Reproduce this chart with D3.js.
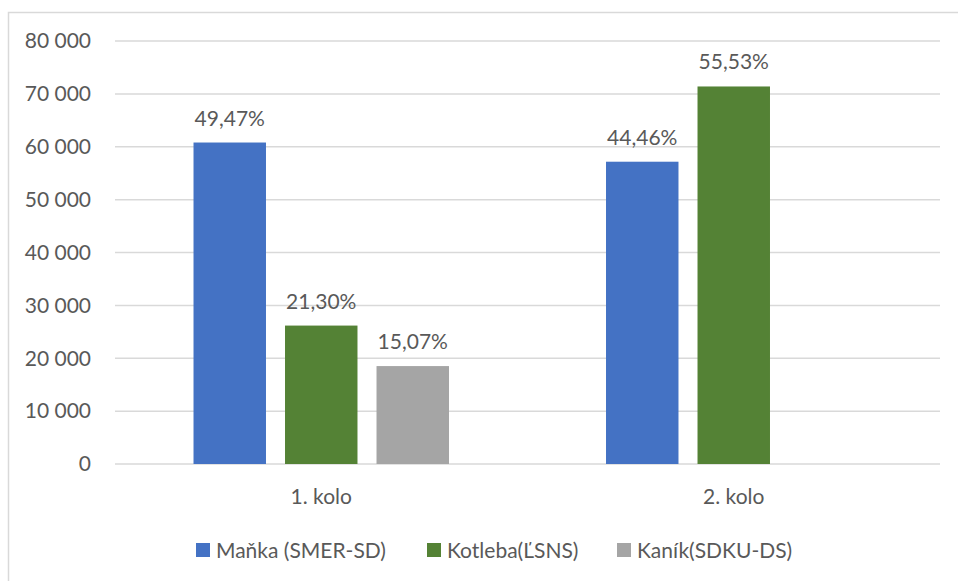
<!DOCTYPE html>
<html><head><meta charset="utf-8">
<script src="https://cdn.jsdelivr.net/npm/d3@7"></script>
<style>body{margin:0;background:#fff}svg{display:block}text{font-family:Lato,"Open Sans",sans-serif;fill:#595959}</style>
</head><body><svg id="c" width="958" height="581"></svg>
<script>
const categories = ["1. kolo", "2. kolo"];
const seriesNames = ["Maňka (SMER-SD)", "Kotleba(ĽSNS)", "Kaník(SDKU-DS)"];
const seriesColors = ["#4472C4", "#548235", "#A5A5A5"];
const manka = [60800, 57170];
const kotleba = [26180, 71400];
const kanik = [18520, null];
const mankaPct = ["49,47%", "44,46%"];
const kotlebaPct = ["21,30%", "55,53%"];
const kanikPct = ["15,07%", null];
const yTicks = [0, 10000, 20000, 30000, 40000, 50000, 60000, 70000, 80000];

const values = [manka, kotleba, kanik];
const pcts = [mankaPct, kotlebaPct, kanikPct];

const svg = d3.select("#c");
svg.append("rect").attr("x", 8.5).attr("y", 12.5).attr("width", 960).attr("height", 600)
  .attr("fill", "none").attr("stroke", "#d9d9d9").attr("stroke-width", 1.5);

const x0 = d3.scaleBand().domain(categories).range([115, 940]);
const x1 = d3.scaleBand().domain([0, 1, 2]).range([0, x0.bandwidth()]).paddingInner(0.208).paddingOuter(0.858);
const y = d3.scaleLinear().domain([0, 80000]).range([464, 41]);

const fmt = v => d3.format(",")(v).replace(/,/g, " ");

svg.append("g").selectAll("line").data(yTicks).join("line")
  .attr("x1", 115).attr("x2", 940).attr("y1", d => y(d)).attr("y2", d => y(d))
  .attr("stroke", "#d9d9d9").attr("stroke-width", 1.5);

svg.append("g").selectAll("text").data(yTicks).join("text")
  .attr("x", 91).attr("y", d => y(d)).attr("dy", "0.35em").attr("text-anchor", "end")
  .attr("font-size", 21).text(fmt);

const bars = [];
categories.forEach((c, ci) => values.forEach((s, si) => {
  if (s[ci] != null) bars.push({c, si, v: s[ci], p: pcts[si][ci]});
}));

svg.append("g").selectAll("rect").data(bars).join("rect")
  .attr("x", d => x0(d.c) + x1(d.si)).attr("width", x1.bandwidth())
  .attr("y", d => y(d.v)).attr("height", d => y(0) - y(d.v))
  .attr("fill", d => seriesColors[d.si]);

svg.append("g").selectAll("text").data(bars).join("text")
  .attr("x", d => x0(d.c) + x1(d.si) + x1.bandwidth() / 2).attr("y", d => y(d.v) - 17)
  .attr("text-anchor", "middle").attr("font-size", 21).text(d => d.p);

svg.append("g").selectAll("text").data(categories).join("text")
  .attr("x", d => x0(d) + x0.bandwidth() / 2).attr("y", 504)
  .attr("text-anchor", "middle").attr("font-size", 21).text(d => d);

const legX = [196, 427, 617];
const lg = svg.append("g").selectAll("g").data(seriesNames).join("g")
  .attr("transform", (d, i) => `translate(${legX[i]},543)`);
lg.append("rect").attr("width", 14).attr("height", 14).attr("fill", (d, i) => seriesColors[i]);
lg.append("text").attr("x", 20).attr("y", 14.5).attr("font-size", 21).text(d => d);
</script></body></html>
